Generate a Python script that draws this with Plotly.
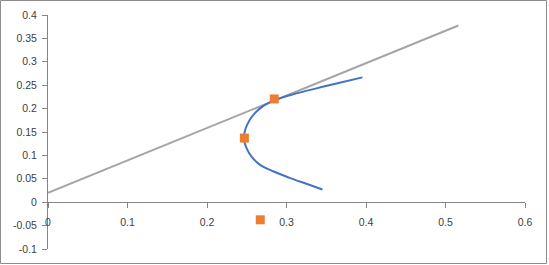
import plotly.graph_objects as go

# Data
curve_x = [0.3955, 0.3669, 0.3376, 0.3082, 0.2915, 0.2789, 0.2684, 0.2600, 0.2537,
           0.2487, 0.2462, 0.2496, 0.2558, 0.2663, 0.2830, 0.3040, 0.3250, 0.3452]
curve_y = [0.2667, 0.2554, 0.2432, 0.2304, 0.2219, 0.2131, 0.2025, 0.1899, 0.1758,
           0.1579, 0.1370, 0.1161, 0.0981, 0.0804, 0.0661, 0.0521, 0.0393, 0.0271]

line_x = [0.0, 0.5162]
line_y = [0.020, 0.3776]

point_x = [0.2846, 0.247, 0.267]
point_y = [0.2206, 0.137, -0.0376]

x_ticks = [0, 0.1, 0.2, 0.3, 0.4, 0.5, 0.6]
x_labels = ["0", "0.1", "0.2", "0.3", "0.4", "0.5", "0.6"]
y_ticks = [-0.1, -0.05, 0, 0.05, 0.1, 0.15, 0.2, 0.25, 0.3, 0.35, 0.4]
y_labels = ["-0.1", "-0.05", "0", "0.05", "0.1", "0.15", "0.2", "0.25", "0.3", "0.35", "0.4"]

W, H = 549, 265
ML, MR, MT, MB = 48, 24, 15, 16
PW, PH = W - ML - MR, H - MT - MB

fig = go.Figure()
fig.add_trace(go.Scatter(x=line_x, y=line_y, mode="lines",
                         line=dict(color="#A5A5A5", width=2), showlegend=False))
fig.add_trace(go.Scatter(x=curve_x, y=curve_y, mode="lines",
                         line=dict(color="#4472C4", width=2, shape="spline", smoothing=1.0),
                         showlegend=False))
fig.add_trace(go.Scatter(x=point_x, y=point_y, mode="markers",
                         marker=dict(symbol="square", size=9, color="#ED7D31"),
                         showlegend=False))

axis_color = "#868686"
font = dict(family="Liberation Sans", size=10.5, color="#404040")

fig.update_layout(
    width=W, height=H,
    margin=dict(l=ML, r=MR, t=MT, b=MB, autoexpand=False),
    paper_bgcolor="white", plot_bgcolor="white",
    font=font,
    xaxis=dict(range=[0, 0.6], tickvals=x_ticks, ticktext=x_labels,
               showgrid=False, zeroline=False, showline=True, linecolor=axis_color,
               linewidth=1, ticks="outside", ticklen=5, tickcolor=axis_color,
               anchor="free", position=0.2, tickfont=font, automargin=False,
               ticklabelstandoff=5),
    yaxis=dict(range=[-0.1, 0.4], tickvals=y_ticks, ticktext=y_labels,
               showgrid=False, zeroline=False, showline=True, linecolor=axis_color,
               linewidth=1, ticks="outside", ticklen=5, tickcolor=axis_color,
               tickfont=font, automargin=False, ticklabelstandoff=3),
    shapes=[dict(type="rect", xref="paper", yref="paper",
                 x0=(0.5 - ML) / PW, x1=(W - 2.5 - ML) / PW,
                 y0=-(MB - 1.5) / PH, y1=(PH + MT - 0.5) / PH,
                 line=dict(color="#8C8C8C", width=1), fillcolor="rgba(0,0,0,0)",
                 layer="below")],
)

fig.write_html("out.html", config={"displayModeBar": False},
               post_script="document.body.style.margin='0';document.body.style.overflow='hidden';")
